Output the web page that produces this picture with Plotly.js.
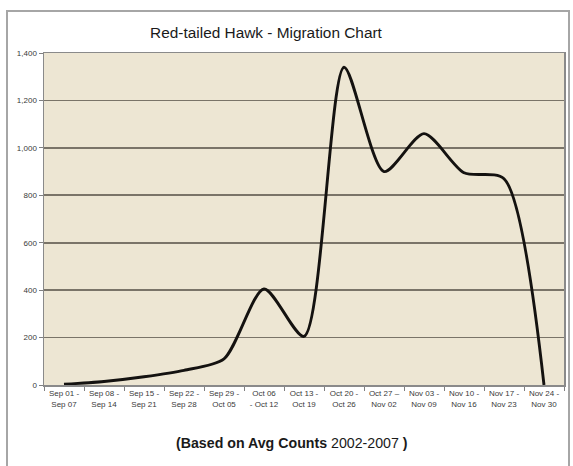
<!DOCTYPE html>
<html>
<head>
<meta charset="utf-8">
<script src="https://cdn.plot.ly/plotly-3.0.1.min.js"></script>
<style>
  html, body { margin: 0; padding: 0; background: #ffffff; overflow: hidden; }
  #wrap { position: relative; width: 573px; height: 466px; }
  #frame {
    position: absolute; left: 6px; top: 10px; width: 564px; height: 480px;
    border: 2px solid #a6a6a6; box-sizing: border-box; pointer-events: none; z-index: 5;
  }
  #chart { position: absolute; left: 0; top: 0; width: 573px; height: 466px; }
</style>
</head>
<body>
<div id="wrap">
  <div id="chart"></div>
  <div id="frame"></div>
</div>
<script>
// Weekly periods of the autumn season
const weeks = [
  "Sep 01 -<br>Sep 07", "Sep 08 -<br>Sep 14", "Sep 15 -<br>Sep 21",
  "Sep 22 -<br>Sep 28", "Sep 29 -<br>Oct 05", "Oct 06<br>- Oct 12",
  "Oct 13 -<br>Oct 19", "Oct 20 -<br>Oct 26", "Oct 27 \u2013<br>Nov 02",
  "Nov 03 -<br>Nov 09", "Nov 10 -<br>Nov 16", "Nov 17 -<br>Nov 23",
  "Nov 24 -<br>Nov 30"
];

// Average hawk counts per week
const avgCounts = [3, 15, 35, 62, 110, 405, 205, 1340, 900, 1060, 895, 870, 0];

// Value axis ticks
const yTicks = [0, 200, 400, 600, 800, 1000, 1200, 1400];

const W = 573, H = 466;
const plotLeft = 44, plotRight = 564, plotTop = 53, plotBottom = 385;
const plotW = plotRight - plotLeft, plotH = plotBottom - plotTop;

const trace = {
  x: weeks,
  y: avgCounts,
  type: "scatter",
  mode: "lines",
  line: { color: "#141210", width: 2.9, shape: "spline", smoothing: 0.75 },
  hoverinfo: "x+y"
};

const layout = {
  width: W,
  height: H,
  margin: { l: plotLeft, r: W - plotRight, t: plotTop, b: H - plotBottom, pad: 0 },
  paper_bgcolor: "#ffffff",
  plot_bgcolor: "#ede6d3",
  showlegend: false,
  font: { family: "Liberation Sans, Arial, sans-serif", color: "#333" },
  title: {
    text: "Red-tailed Hawk - Migration Chart",
    font: { size: 15.4, color: "#1a1a1a", family: "Liberation Sans, Arial, sans-serif" },
    x: 266 / W, xref: "container", xanchor: "center",
    y: 1 - 33 / H, yref: "container", yanchor: "middle"
  },
  xaxis: {
    type: "category",
    tickvals: weeks,
    ticktext: weeks,
    tickson: "boundaries",
    ticks: "outside",
    ticklen: 4,
    tickcolor: "#808080",
    tickfont: { size: 8, color: "#3a3a3a" },
    showline: true,
    linecolor: "#8a8a8a",
    linewidth: 1.5,
    mirror: true,
    showgrid: false,
    zeroline: false,
    range: [-0.5, weeks.length - 0.5],
    fixedrange: true
  },
  yaxis: {
    range: [0, 1400],
    tickvals: yTicks,
    tickformat: ",d",
    ticks: "outside",
    ticklen: 4,
    tickcolor: "#808080",
    tickfont: { size: 8, color: "#3a3a3a" },
    showline: true,
    linecolor: "#8a8a8a",
    linewidth: 1.5,
    mirror: true,
    showgrid: true,
    gridcolor: "#7a7468",
    gridwidth: 1.8,
    zeroline: false,
    fixedrange: true
  },
  annotations: [
    {
      text: "<b>(Based on Avg Counts</b> 2002-2007 <b>)</b>",
      xref: "paper", yref: "paper",
      x: (292 - plotLeft) / plotW,
      y: -(443 - plotBottom) / plotH,
      xanchor: "center", yanchor: "middle",
      showarrow: false,
      font: { size: 14.2, color: "#1a1a1a", family: "Liberation Sans, Arial, sans-serif" }
    }
  ]
};

Plotly.newPlot("chart", [trace], layout, { displayModeBar: false, staticPlot: true });
</script>
</body>
</html>
